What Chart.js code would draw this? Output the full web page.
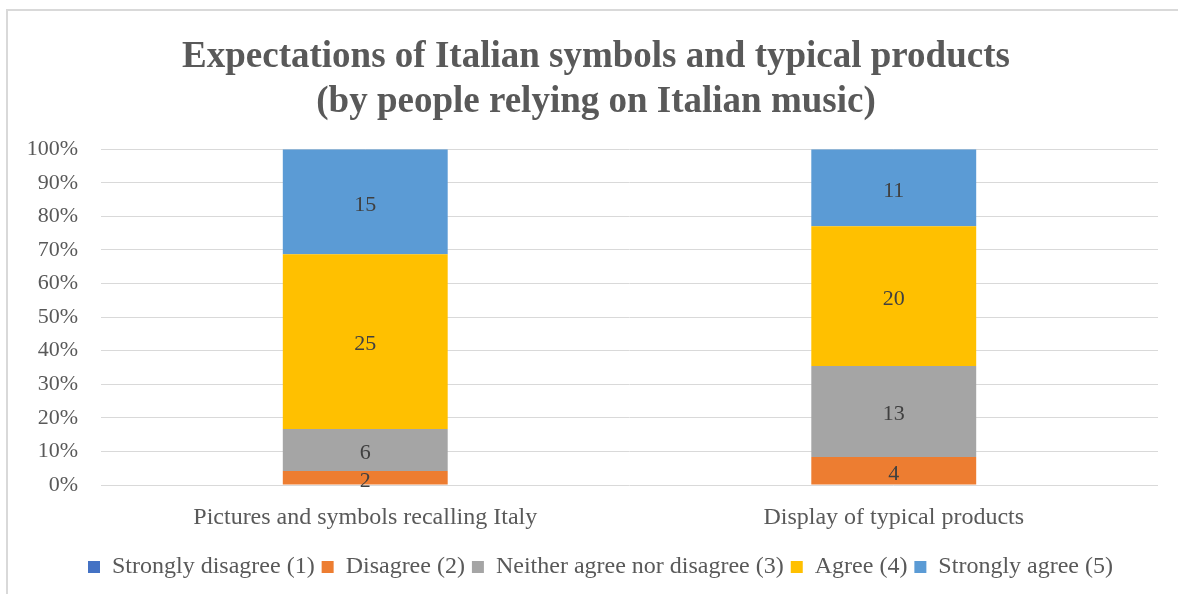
<!DOCTYPE html>
<html>
<head>
<meta charset="utf-8">
<script src="https://cdn.jsdelivr.net/npm/chart.js@4.4.1/dist/chart.umd.min.js"></script>
<style>
  html, body { margin: 0; padding: 0; background: #ffffff; }
  #wrap { position: relative; width: 1178px; height: 594px; overflow: hidden; }
  #frame { position: absolute; left: 6px; top: 9px; width: 1200px; height: 620px;
           border-left: 2px solid #d9d9d9; border-top: 2px solid #d9d9d9; box-sizing: border-box; }
  canvas { position: absolute; left: 0; top: 0; }
</style>
</head>
<body>
<div id="wrap">
  <div id="frame"></div>
  <canvas id="chart" width="1178" height="594"></canvas>
</div>
<script>
// Survey answers (respondent counts) per statement
const categories = ['Pictures and symbols recalling Italy', 'Display of typical products'];
const seriesNames = ['Strongly disagree (1)', 'Disagree (2)', 'Neither agree nor disagree (3)', 'Agree (4)', 'Strongly agree (5)'];
const stronglyDisagree = [0, 0];
const disagree = [2, 4];
const neither = [6, 13];
const agree = [25, 20];
const stronglyAgree = [15, 11];
const seriesColors = ['#4472C4', '#ED7D31', '#A5A5A5', '#FFC000', '#5B9BD5'];
const yTicks = [0, 10, 20, 30, 40, 50, 60, 70, 80, 90, 100];

const counts = [stronglyDisagree, disagree, neither, agree, stronglyAgree];
const totals = categories.map((_, i) => counts.reduce((s, arr) => s + arr[i], 0));

const SERIF = "'Liberation Serif', 'Times New Roman', serif";
const TEXT = '#595959';

// 100% stacked: each segment is its share of the category total
const datasets = counts.map((arr, k) => ({
  label: seriesNames[k],
  data: arr.map((v, i) => v / totals[i] * 100),
  counts: arr,
  backgroundColor: seriesColors[k],
  borderWidth: 0,
  categoryPercentage: 1.0,
  barPercentage: 0.312
}));

// Writes each segment's respondent count in the middle of its bar piece
const segmentLabels = {
  id: 'segmentLabels',
  afterDatasetsDraw(chart) {
    const ctx = chart.ctx;
    ctx.save();
    ctx.font = '22px ' + SERIF;
    ctx.fillStyle = '#404040';
    ctx.textAlign = 'center';
    ctx.textBaseline = 'middle';
    chart.data.datasets.forEach((ds, di) => {
      const meta = chart.getDatasetMeta(di);
      meta.data.forEach((bar, i) => {
        const n = ds.counts[i];
        if (!n) return;
        const y = (bar.y + bar.base) / 2;
        ctx.fillText(String(n), bar.x, y + 3);
      });
    });
    ctx.restore();
  }
};

// Centres the title and legend within the wider chart frame
const frameOffset = {
  id: 'frameOffset',
  afterLayout(chart) {
    if (chart.titleBlock) chart.titleBlock.left += 24;
    if (chart.legend) chart.legend.left += 33;
  }
};

new Chart(document.getElementById('chart'), {
  type: 'bar',
  data: { labels: categories, datasets },
  options: {
    responsive: false,
    animation: false,
    layout: { padding: { left: 10, right: 20, top: 0, bottom: 5 } },
    plugins: {
      title: {
        display: true,
        text: ['Expectations of Italian symbols and typical products', '(by people relying on Italian music)'],
        color: TEXT,
        font: { family: SERIF, size: 37, weight: 'bold', lineHeight: 1.22 },
        padding: { top: 35, bottom: 24 }
      },
      legend: {
        position: 'bottom',
        labels: {
          color: TEXT,
          font: { family: SERIF, size: 24 },
          boxWidth: 12,
          boxHeight: 12,
          padding: 7
        }
      },
      tooltip: { enabled: false }
    },
    scales: {
      x: {
        stacked: true,
        grid: { display: false },
        border: { display: false },
        ticks: { color: TEXT, font: { family: SERIF, size: 24 }, padding: 10 },
        afterFit(scale) { scale.height = 63; }
      },
      y: {
        stacked: true,
        min: 0,
        max: 100,
        afterBuildTicks(scale) { scale.ticks = yTicks.map(v => ({ value: v })); },
        afterFit(scale) { scale.width = 91; },
        grid: { color: '#d9d9d9', lineWidth: 1, drawTicks: false },
        border: { display: false },
        ticks: {
          color: TEXT,
          font: { family: SERIF, size: 22 },
          padding: 23,
          callback: v => v + '%'
        }
      }
    }
  },
  plugins: [segmentLabels, frameOffset]
});
</script>
</body>
</html>
